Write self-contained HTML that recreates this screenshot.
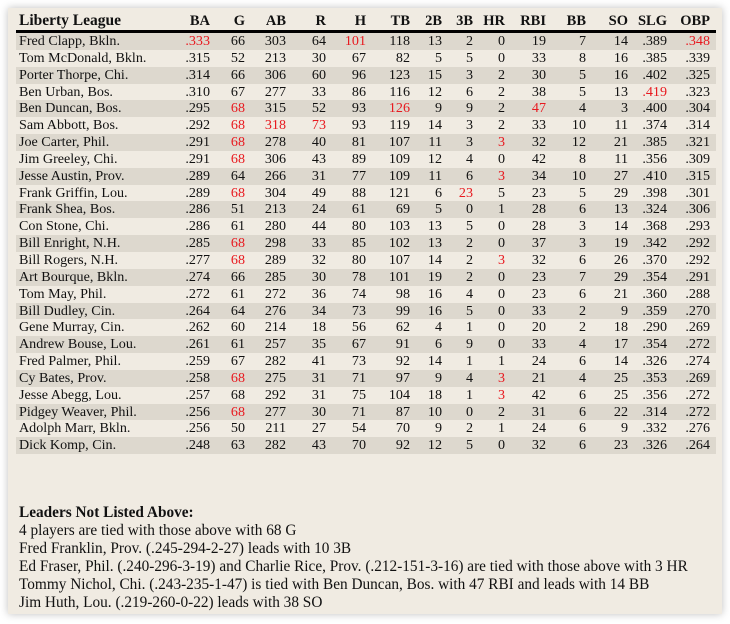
<!DOCTYPE html>
<html><head><meta charset="utf-8">
<style>
body{margin:0;background:#fff;width:730px;height:624px;overflow:hidden;font-family:"Liberation Serif",serif;color:#111}
#p{position:absolute;left:8px;top:8px;width:714px;height:606px;background:#f0ebe2;box-shadow:0 0 8px rgba(0,0,0,.25)}
#t{position:absolute;left:16px;top:12px;width:700px}
.r{display:grid;grid-template-columns:154px 40px 35px 41px 40px 40px 44px 32px 31px 32px 41px 40px 42px 39px 46px;grid-template-rows:16.85px;height:16.85px;line-height:16.85px;font-size:14.1px;overflow:hidden}
.r span{text-align:right;height:16.85px;overflow:visible}
.r span:first-child{text-align:left;padding-left:3px;white-space:nowrap}
.r span:last-child{padding-right:3px}
.h{font-weight:bold;font-size:14.5px;grid-template-rows:18px;height:18px;line-height:18px;border-bottom:3px solid #000;margin-bottom:0}
.h span{height:18px}
.h span:first-child{font-size:15.5px}
.b .r:nth-child(odd){background:#ddd8ce}
i{font-style:normal;color:#e8191f}
#f{position:absolute;left:19px;top:504px;font-size:15.3px;line-height:18px;white-space:nowrap}
</style></head><body>
<div id="p"></div>
<div id="t">
<div class="r h"><span>Liberty League</span><span>BA</span><span>G</span><span>AB</span><span>R</span><span>H</span><span>TB</span><span>2B</span><span>3B</span><span>HR</span><span>RBI</span><span>BB</span><span>SO</span><span>SLG</span><span>OBP</span></div>
<div class="b">
<div class="r"><span>Fred Clapp, Bkln.</span><span><i>.333</i></span><span>66</span><span>303</span><span>64</span><span><i>101</i></span><span>118</span><span>13</span><span>2</span><span>0</span><span>19</span><span>7</span><span>14</span><span>.389</span><span><i>.348</i></span></div>
<div class="r"><span>Tom McDonald, Bkln.</span><span>.315</span><span>52</span><span>213</span><span>30</span><span>67</span><span>82</span><span>5</span><span>5</span><span>0</span><span>33</span><span>8</span><span>16</span><span>.385</span><span>.339</span></div>
<div class="r"><span>Porter Thorpe, Chi.</span><span>.314</span><span>66</span><span>306</span><span>60</span><span>96</span><span>123</span><span>15</span><span>3</span><span>2</span><span>30</span><span>5</span><span>16</span><span>.402</span><span>.325</span></div>
<div class="r"><span>Ben Urban, Bos.</span><span>.310</span><span>67</span><span>277</span><span>33</span><span>86</span><span>116</span><span>12</span><span>6</span><span>2</span><span>38</span><span>5</span><span>13</span><span><i>.419</i></span><span>.323</span></div>
<div class="r"><span>Ben Duncan, Bos.</span><span>.295</span><span><i>68</i></span><span>315</span><span>52</span><span>93</span><span><i>126</i></span><span>9</span><span>9</span><span>2</span><span><i>47</i></span><span>4</span><span>3</span><span>.400</span><span>.304</span></div>
<div class="r"><span>Sam Abbott, Bos.</span><span>.292</span><span><i>68</i></span><span><i>318</i></span><span><i>73</i></span><span>93</span><span>119</span><span>14</span><span>3</span><span>2</span><span>33</span><span>10</span><span>11</span><span>.374</span><span>.314</span></div>
<div class="r"><span>Joe Carter, Phil.</span><span>.291</span><span><i>68</i></span><span>278</span><span>40</span><span>81</span><span>107</span><span>11</span><span>3</span><span><i>3</i></span><span>32</span><span>12</span><span>21</span><span>.385</span><span>.321</span></div>
<div class="r"><span>Jim Greeley, Chi.</span><span>.291</span><span><i>68</i></span><span>306</span><span>43</span><span>89</span><span>109</span><span>12</span><span>4</span><span>0</span><span>42</span><span>8</span><span>11</span><span>.356</span><span>.309</span></div>
<div class="r"><span>Jesse Austin, Prov.</span><span>.289</span><span>64</span><span>266</span><span>31</span><span>77</span><span>109</span><span>11</span><span>6</span><span><i>3</i></span><span>34</span><span>10</span><span>27</span><span>.410</span><span>.315</span></div>
<div class="r"><span>Frank Griffin, Lou.</span><span>.289</span><span><i>68</i></span><span>304</span><span>49</span><span>88</span><span>121</span><span>6</span><span><i>23</i></span><span>5</span><span>23</span><span>5</span><span>29</span><span>.398</span><span>.301</span></div>
<div class="r"><span>Frank Shea, Bos.</span><span>.286</span><span>51</span><span>213</span><span>24</span><span>61</span><span>69</span><span>5</span><span>0</span><span>1</span><span>28</span><span>6</span><span>13</span><span>.324</span><span>.306</span></div>
<div class="r"><span>Con Stone, Chi.</span><span>.286</span><span>61</span><span>280</span><span>44</span><span>80</span><span>103</span><span>13</span><span>5</span><span>0</span><span>28</span><span>3</span><span>14</span><span>.368</span><span>.293</span></div>
<div class="r"><span>Bill Enright, N.H.</span><span>.285</span><span><i>68</i></span><span>298</span><span>33</span><span>85</span><span>102</span><span>13</span><span>2</span><span>0</span><span>37</span><span>3</span><span>19</span><span>.342</span><span>.292</span></div>
<div class="r"><span>Bill Rogers, N.H.</span><span>.277</span><span><i>68</i></span><span>289</span><span>32</span><span>80</span><span>107</span><span>14</span><span>2</span><span><i>3</i></span><span>32</span><span>6</span><span>26</span><span>.370</span><span>.292</span></div>
<div class="r"><span>Art Bourque, Bkln.</span><span>.274</span><span>66</span><span>285</span><span>30</span><span>78</span><span>101</span><span>19</span><span>2</span><span>0</span><span>23</span><span>7</span><span>29</span><span>.354</span><span>.291</span></div>
<div class="r"><span>Tom May, Phil.</span><span>.272</span><span>61</span><span>272</span><span>36</span><span>74</span><span>98</span><span>16</span><span>4</span><span>0</span><span>23</span><span>6</span><span>21</span><span>.360</span><span>.288</span></div>
<div class="r"><span>Bill Dudley, Cin.</span><span>.264</span><span>64</span><span>276</span><span>34</span><span>73</span><span>99</span><span>16</span><span>5</span><span>0</span><span>33</span><span>2</span><span>9</span><span>.359</span><span>.270</span></div>
<div class="r"><span>Gene Murray, Cin.</span><span>.262</span><span>60</span><span>214</span><span>18</span><span>56</span><span>62</span><span>4</span><span>1</span><span>0</span><span>20</span><span>2</span><span>18</span><span>.290</span><span>.269</span></div>
<div class="r"><span>Andrew Bouse, Lou.</span><span>.261</span><span>61</span><span>257</span><span>35</span><span>67</span><span>91</span><span>6</span><span>9</span><span>0</span><span>33</span><span>4</span><span>17</span><span>.354</span><span>.272</span></div>
<div class="r"><span>Fred Palmer, Phil.</span><span>.259</span><span>67</span><span>282</span><span>41</span><span>73</span><span>92</span><span>14</span><span>1</span><span>1</span><span>24</span><span>6</span><span>14</span><span>.326</span><span>.274</span></div>
<div class="r"><span>Cy Bates, Prov.</span><span>.258</span><span><i>68</i></span><span>275</span><span>31</span><span>71</span><span>97</span><span>9</span><span>4</span><span><i>3</i></span><span>21</span><span>4</span><span>25</span><span>.353</span><span>.269</span></div>
<div class="r"><span>Jesse Abegg, Lou.</span><span>.257</span><span>68</span><span>292</span><span>31</span><span>75</span><span>104</span><span>18</span><span>1</span><span><i>3</i></span><span>42</span><span>6</span><span>25</span><span>.356</span><span>.272</span></div>
<div class="r"><span>Pidgey Weaver, Phil.</span><span>.256</span><span><i>68</i></span><span>277</span><span>30</span><span>71</span><span>87</span><span>10</span><span>0</span><span>2</span><span>31</span><span>6</span><span>22</span><span>.314</span><span>.272</span></div>
<div class="r"><span>Adolph Marr, Bkln.</span><span>.256</span><span>50</span><span>211</span><span>27</span><span>54</span><span>70</span><span>9</span><span>2</span><span>1</span><span>24</span><span>6</span><span>9</span><span>.332</span><span>.276</span></div>
<div class="r"><span>Dick Komp, Cin.</span><span>.248</span><span>63</span><span>282</span><span>43</span><span>70</span><span>92</span><span>12</span><span>5</span><span>0</span><span>32</span><span>6</span><span>23</span><span>.326</span><span>.264</span></div>
</div></div>
<div id="f">
<b>Leaders Not Listed Above:</b><br>
4 players are tied with those above with 68 G<br>
Fred Franklin, Prov. (.245-294-2-27) leads with 10 3B<br>
Ed Fraser, Phil. (.240-296-3-19) and Charlie Rice, Prov. (.212-151-3-16) are tied with those above with 3 HR<br>
Tommy Nichol, Chi. (.243-235-1-47) is tied with Ben Duncan, Bos. with 47 RBI and leads with 14 BB<br>
Jim Huth, Lou. (.219-260-0-22) leads with 38 SO
</div>
</body></html>
